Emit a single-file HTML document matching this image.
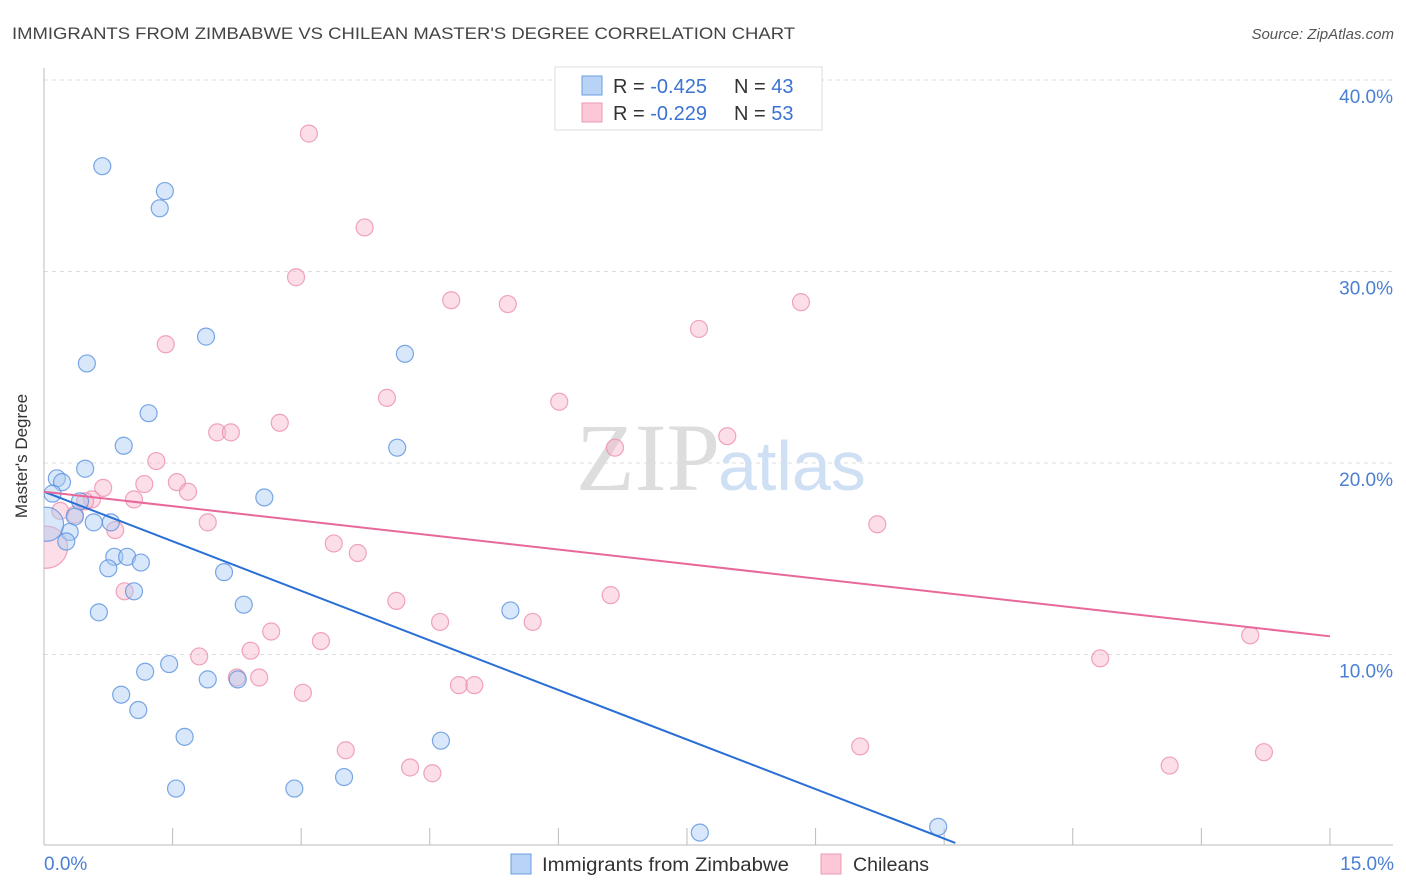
<!DOCTYPE html>
<html><head><meta charset="utf-8"><style>
body{margin:0;background:#fff;font-family:"Liberation Sans",sans-serif;}
svg{display:block}
</style></head><body>
<svg width="1406" height="892" xmlns="http://www.w3.org/2000/svg">
<defs><clipPath id="plot"><rect x="44" y="60" width="1360" height="786"/></clipPath></defs>
<text x="12" y="39" font-size="17" fill="#444" textLength="783" lengthAdjust="spacingAndGlyphs">IMMIGRANTS FROM ZIMBABWE VS CHILEAN MASTER'S DEGREE CORRELATION CHART</text>
<text x="1394" y="39" font-size="15" fill="#555" font-style="italic" text-anchor="end">Source: ZipAtlas.com</text>
<g id="grid"></g>
<text x="720" y="490" font-size="96" fill="#ddd" text-anchor="end" font-family="Liberation Serif">ZIP</text>
<text x="718" y="490" font-size="70" fill="#cfe0f4">atlas</text>
<g id="pts" clip-path="url(#plot)"></g>
<g id="lines"></g>
<text x="27" y="456" font-size="17" fill="#333" text-anchor="middle" transform="rotate(-90 27 456)">Master's Degree</text>
<text x="44" y="870" font-size="19" fill="#4a7fd4">0.0%</text>
<text x="1394" y="870" font-size="19" fill="#4a7fd4" text-anchor="end">15.0%</text>
<g>
<rect x="555" y="67" width="267" height="63" fill="#fff" stroke="#ddd"/>
<rect x="582" y="76" width="20" height="19" fill="#b8d3f5" stroke="#6a9ee0"/>
<rect x="582" y="103" width="20" height="19" fill="#fcc8d8" stroke="#ec9ab4"/>
<text x="613" y="93" font-size="20" fill="#333">R = <tspan fill="#3a73d0">-0.425</tspan><tspan x="734">N = </tspan><tspan fill="#3a73d0">43</tspan></text>
<text x="613" y="120" font-size="20" fill="#333">R = <tspan fill="#3a73d0">-0.229</tspan><tspan x="734">N = </tspan><tspan fill="#3a73d0">53</tspan></text>
</g>
<g>
<rect x="511" y="854" width="20" height="20" fill="#b8d3f5" stroke="#6a9ee0"/>
<text x="542" y="871" font-size="19" fill="#333" textLength="247" lengthAdjust="spacingAndGlyphs">Immigrants from Zimbabwe</text>
<rect x="821" y="854" width="20" height="20" fill="#fcc8d8" stroke="#ec9ab4"/>
<text x="853" y="871" font-size="19" fill="#333" textLength="76" lengthAdjust="spacingAndGlyphs">Chileans</text>
</g>
</svg>
<script>
const yTicks=[10,20,30,40];
const yTickLabels=["10.0%","20.0%","30.0%","40.0%"];
const xTicks=[0,1.5,3,4.5,6,7.5,9,10.5,12,13.5,15];
const blueX=[0.68,1.41,1.35,1.89,0.50,4.21,1.22,0.93,4.12,0.48,0.15,0.21,0.10,2.57,0.42,0.36,0.58,0.78,0.30,0.26,0.03,0.82,0.97,1.13,0.75,2.10,1.05,0.64,2.33,5.44,1.18,1.46,1.91,2.26,0.90,1.10,1.64,4.63,3.50,1.54,2.92,7.65,10.43];
const blueY=[35.5,34.2,33.3,26.6,25.2,25.7,22.6,20.9,20.8,19.7,19.2,19.0,18.4,18.2,18.0,17.2,16.9,16.9,16.4,15.9,16.8,15.1,15.1,14.8,14.5,14.3,13.3,12.2,12.6,12.3,9.1,9.5,8.7,8.7,7.9,7.1,5.7,5.5,3.6,3.0,3.0,0.7,1.0];
const pinkX=[3.09,3.74,2.94,4.75,5.41,8.83,1.42,7.64,4.00,6.01,2.75,2.02,2.18,7.97,6.66,1.31,1.55,1.68,1.17,0.69,0.56,1.05,0.48,0.36,1.91,9.72,0.83,3.38,3.66,0.19,0.03,0.94,6.61,4.11,4.62,5.70,2.65,3.23,2.41,1.81,2.25,2.51,3.02,4.84,5.02,12.32,14.07,3.52,9.52,4.27,4.53,13.13,14.23];
const pinkY=[37.2,32.3,29.7,28.5,28.3,28.4,26.2,27.0,23.4,23.2,22.1,21.6,21.6,21.4,20.8,20.1,19.0,18.5,18.9,18.7,18.1,18.1,18.0,17.3,16.9,16.8,16.5,15.8,15.3,17.5,15.6,13.3,13.1,12.8,11.7,11.7,11.2,10.7,10.2,9.9,8.8,8.8,8.0,8.4,8.4,9.8,11.0,5.0,5.2,4.1,3.8,4.2,4.9];
const blueBig=[20];const pinkBig=[30];
const blueTrend=[[0,18.5],[10.63,0.16]];
const pinkTrend=[[0,18.5],[15,10.95]];
const NS="http://www.w3.org/2000/svg";
const sx=v=>44+v*85.73, sy=v=>846-v*19.15;
function mk(t,a,p){const e=document.createElementNS(NS,t);for(const k in a)e.setAttribute(k,a[k]);p.appendChild(e);return e;}
const g=document.getElementById('grid');
yTicks.forEach((t,i)=>{
 const l=mk('line',{x1:44,x2:1393,y1:sy(t),y2:sy(t),stroke:'#ddd','stroke-dasharray':'4,4'},g);
 
 
 const tx=mk('text',{x:1393,y:sy(t)+23,'font-size':19,fill:'#4a7fd4','text-anchor':'end'},g);
 tx.textContent=yTickLabels[i];
 
 
});
const ax=mk('line',{x1:44,x2:44,y1:68,y2:845,stroke:'#bbb'},g);


const bx=mk('line',{x1:44,x2:1393,y1:845,y2:845,stroke:'#bbb'},g);


xTicks.forEach(t=>{
 const l=mk('line',{x1:sx(t),x2:sx(t),y1:828,y2:845,stroke:'#bbb'},g);
 
 
});
const P=document.getElementById('pts');
function dots(X,Y,big,br,fill,stroke,name){
 X.forEach((x,i)=>{
  const c=mk('circle',{cx:sx(x),cy:sy(Y[i]),r:big.includes(i)?br:8.5,fill:fill,'fill-opacity':0.45,stroke:stroke,'stroke-opacity':0.8,'stroke-width':1.2},P);
  
  
 });
}
dots(pinkX,pinkY,pinkBig,21,'#f7b6ca','#ec8fae','chileans-point');
dots(blueX,blueY,blueBig,17,'#a9c9f2','#5b92de','zimbabwe-point');
const L=document.getElementById('lines');
const bl=mk('line',{x1:sx(blueTrend[0][0]),y1:sy(blueTrend[0][1]),x2:sx(blueTrend[1][0]),y2:sy(blueTrend[1][1]),stroke:'#2a6fd6','stroke-width':2},L);


const pl=mk('line',{x1:sx(pinkTrend[0][0]),y1:sy(pinkTrend[0][1]),x2:sx(pinkTrend[1][0]),y2:sy(pinkTrend[1][1]),stroke:'#e8689a','stroke-width':2},L);


</script>
</body></html>
